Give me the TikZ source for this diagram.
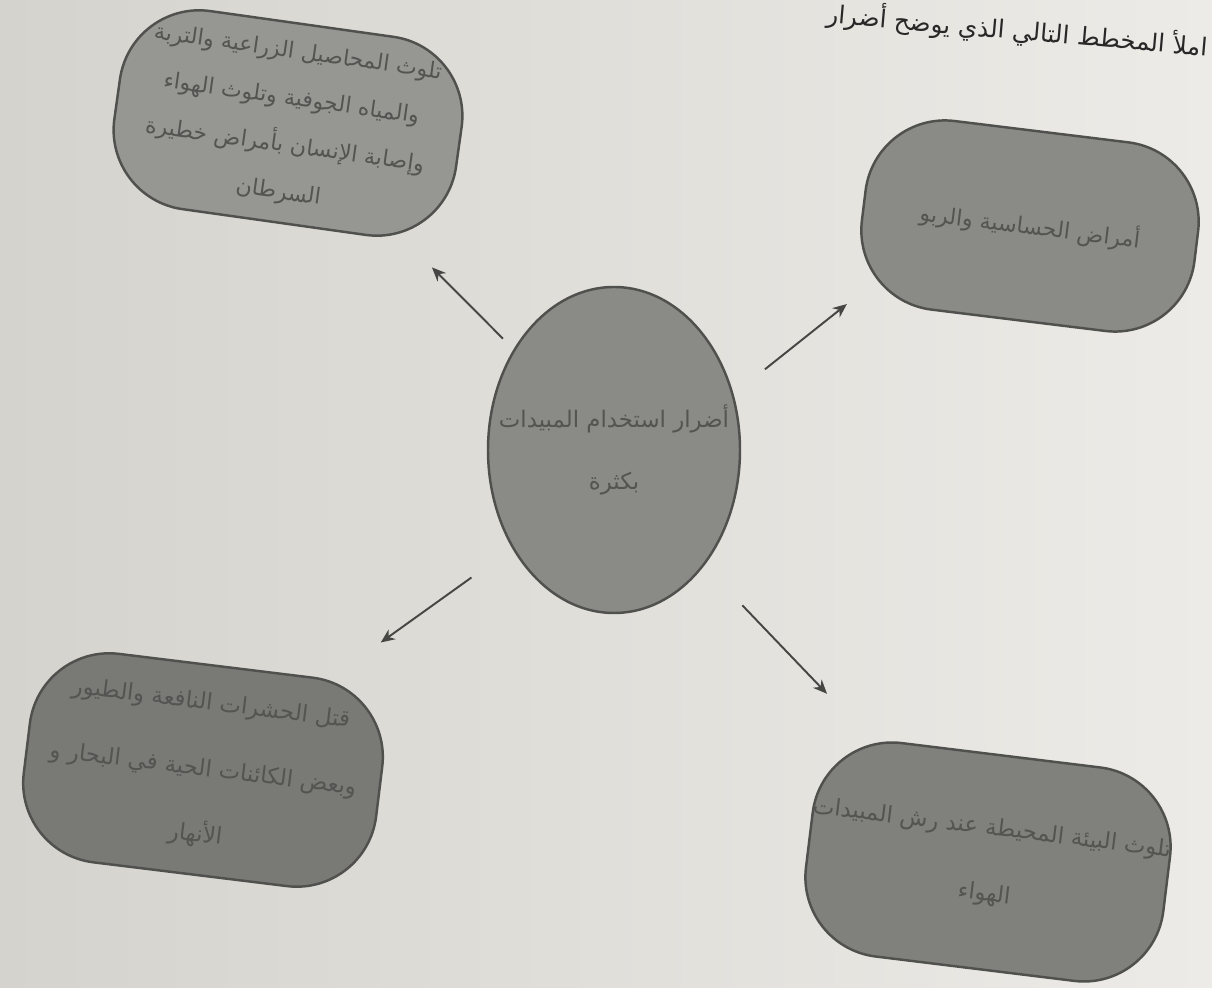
\documentclass[tikz,border=0pt]{standalone}
\usepackage{fontspec}
\usepackage{tikz}
\usetikzlibrary{arrows.meta, shapes.geometric}
\newfontfamily\arabicfont[Script=Arabic]{DejaVu Sans}
\TeXXeTstate=1
\definecolor{paperL}{RGB}{212,211,205}
\definecolor{paperR}{RGB}{236,235,231}
\definecolor{shapeGray}{RGB}{138,138,134}
\definecolor{shapeLight}{RGB}{150,150,146}
\definecolor{shapeDark}{RGB}{121,121,118}
\definecolor{edgeGray}{RGB}{80,80,78}
\definecolor{inkGray}{RGB}{84,84,82}
\definecolor{arrGray}{RGB}{70,70,68}
\definecolor{titleInk}{RGB}{40,40,40}
\newcommand{\artxt}[1]{\makebox[0pt]{\beginR #1\endR}}
\tikzset{
  pill/.style={rectangle, rounded corners=0.8cm, draw=edgeGray, line width=0.7pt,
    fill=shapeGray, inner sep=0pt, align=center, text=inkGray,
    font=\arabicfont\fontsize{6.3}{13.4}\selectfont},
  hub/.style={ellipse, draw=edgeGray, line width=0.7pt, fill=shapeGray, inner sep=0pt,
    minimum width=2.52cm, minimum height=3.26cm, align=center, text=inkGray,
    font=\arabicfont\fontsize{6.5}{17.5}\selectfont},
  arr/.style={-{Stealth[length=4pt,width=3.4pt]}, line width=0.55pt, color=arrGray},
  ttl/.style={font=\arabicfont\fontsize{7}{9}\selectfont, text=titleInk, inner sep=0pt},
}

\begin{document}
\begin{tikzpicture}
\useasboundingbox (0,0) rectangle (12.12,-9.88);
\shade[left color=paperL, right color=paperR] (0,0) rectangle (12.12,-9.88);
\clip (0,0) rectangle (12.12,-9.88);

\node[ttl, anchor=east, rotate=-5] (title) at (12.08,-0.47)
  {\beginR املأ المخطط التالي الذي يوضح أضرار\endR};

% centre
\node[hub] (c) at (6.14,-4.50)
  {\artxt{أضرار استخدام المبيدات}\\ \artxt{بكثرة}};

% the four effects
\node[pill, fill=shapeLight, minimum width=3.45cm, minimum height=2.0cm, rotate=-8] (tl) at (2.88,-1.23)
  {\artxt{تلوث المحاصيل الزراعية والتربة}\\
   \artxt{والمياه الجوفية وتلوث الهواء}\\
   \artxt{وإصابة الإنسان بأمراض خطيرة}\\
   \artxt{السرطان}};

\node[pill, minimum width=3.35cm, minimum height=1.9cm, rotate=-7] (tr) at (10.30,-2.26)
  {\artxt{أمراض الحساسية والربو}};

\node[pill, fill=shapeDark, minimum width=3.55cm, minimum height=2.1cm, rotate=-7,
      font=\arabicfont\fontsize{6.5}{18.8}\selectfont] (bl) at (2.03,-7.70)
  {\artxt{قتل الحشرات النافعة والطيور}\\
   \artxt{وبعض الكائنات الحية في البحار و}\\
   \artxt{الأنهار}};

\node[pill, fill=shapeDark!60!shapeGray, minimum width=3.6cm, minimum height=2.15cm, rotate=-7,
      font=\arabicfont\fontsize{6.5}{18.8}\selectfont] (br) at (9.88,-8.62)
  {\artxt{تلوث البيئة المحيطة عند رش المبيدات}\\
   \artxt{الهواء}};

\draw[arr, shorten <=0.15cm, shorten >=0.36cm] (c) -- (tl);
\draw[arr, shorten <=0.40cm, shorten >=0.05cm] (c.25) -- (tr.south west);
\draw[arr, shorten <=0.50cm, shorten >=0.62cm] (c.224) -- (bl);
\draw[arr, shorten <=0.55cm, shorten >=0.61cm] (c.-52) -- (br);

\end{tikzpicture}
\end{document}
